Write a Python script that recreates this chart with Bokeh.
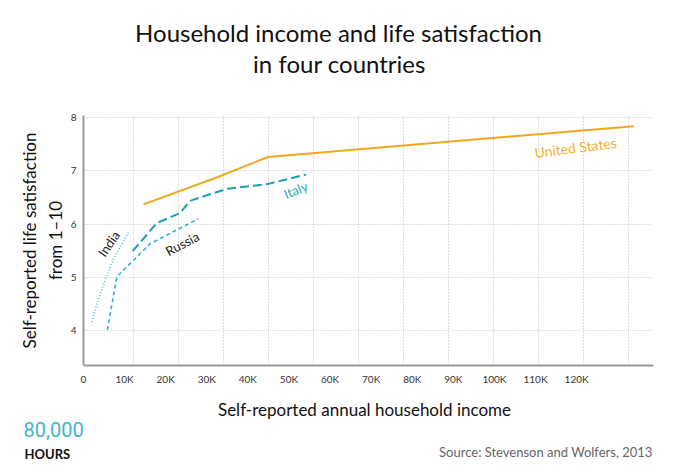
import math

from bokeh.embed import file_html
from bokeh.layouts import column
from bokeh.models import CustomJSTickFormatter, FixedTicker, Label, Range1d
from bokeh.plotting import figure
from bokeh.resources import INLINE

# income in thousands of dollars, satisfaction on a 1-10 scale
us_income = [12.3, 28.7, 39.9, 121.1]
us_sat = [6.37, 6.88, 7.26, 7.84]

italy_income = [9.9, 15.3, 20.3, 22.8, 30.8, 39.8, 48.4]
italy_sat = [5.49, 6.02, 6.20, 6.44, 6.66, 6.75, 6.93]

russia_income = [4.3, 6.4, 13.8, 24.5]
russia_sat = [4.01, 5.01, 5.63, 6.10]

india_income = [0.8, 2.0, 3.9, 5.7, 9.1]
india_sat = [4.16, 4.50, 4.97, 5.35, 5.86]

grid_ticks = [10, 20, 30, 40, 50, 60, 70, 80, 90, 100, 110, 120]
y_ticks = [4, 5, 6, 7, 8]
tick_values = [0, 10, 20, 30, 40, 50, 60, 70, 80, 90, 100, 110, 120]
tick_labels = ["0", "10K", "20K", "30K", "40K", "50K", "60K", "70K",
               "80K", "90K", "100K", "110K", "120K"]

title_lines = ["Household income and life satisfaction", "in four countries"]
x_title = "Self-reported annual household income"
y_title = "Self-reported life satisfaction\nfrom 1–10"
source = "Source: Stevenson and Wolfers, 2013"

FONT = "Lato"
US_C = "#F2A81D"
ITALY_C = "#1E9DB3"
RUSSIA_C = "#35B0C5"
INDIA_C = "#55BACB"
W = 680


def text_strip(h):
    # a bare figure used only to hold text, in pixel coordinates (y down)
    f = figure(width=W, height=h, x_range=Range1d(0, W), y_range=Range1d(h, 0),
               output_backend="svg", toolbar_location=None,
               x_axis_location=None, y_axis_location=None,
               min_border=0)
    f.frame_align = False
    f.outline_line_color = None
    f.xgrid.visible = False
    f.ygrid.visible = False
    return f


def put(f, txt, x, y, size, color="#111111", align="center", style="normal",
        font=FONT):
    f.add_layout(Label(x=x, y=y, text=txt, text_align=align,
                       text_baseline="middle", text_font=font,
                       text_font_size=size, text_color=color,
                       text_font_style=style))


header = text_strip(100)
put(header, title_lines[0], 338, 32, "24px")
put(header, title_lines[1], 339, 63, "24px")

p = figure(
    width=W, height=292,
    x_range=Range1d(-1.0, 125.5), y_range=Range1d(3.34, 8.04),
    output_backend="svg", toolbar_location=None,
    min_border_left=83, min_border_right=27,
    min_border_top=15, min_border_bottom=27,
)
p.outline_line_color = None

# the original's axis labels sit on a slightly tighter spacing than its grid
label_pos = [t * 0.912 - 1.0 for t in tick_values]

p.xaxis.ticker = FixedTicker(ticks=label_pos)
p.xaxis.formatter = CustomJSTickFormatter(
    args=dict(pos=label_pos, txt=tick_labels),
    code="""
    let best = 0;
    for (let i = 0; i < pos.length; i++) {
        if (Math.abs(pos[i] - tick) < Math.abs(pos[best] - tick)) best = i;
    }
    return txt[best];
    """,
)
p.yaxis.ticker = FixedTicker(ticks=y_ticks)

for ax in (p.xaxis, p.yaxis):
    ax.axis_line_color = "#9a9a9a"
    ax.axis_line_width = 2
    ax.major_tick_line_color = None
    ax.major_tick_out = 0
    ax.major_tick_in = 0
    ax.minor_tick_line_color = None
    ax.minor_tick_out = 0
    ax.major_label_text_font = FONT
    ax.major_label_text_font_size = "10px"
    ax.major_label_text_color = "#333333"
p.xaxis.major_label_standoff = 7
p.yaxis.major_label_standoff = 7

p.yaxis.axis_label = y_title
p.yaxis.axis_label_text_font = FONT
p.yaxis.axis_label_text_font_size = "17px"
p.yaxis.axis_label_text_font_style = "normal"
p.yaxis.axis_label_text_color = "#111111"
p.yaxis.axis_label_standoff = 2

p.xgrid.ticker = FixedTicker(ticks=grid_ticks)
p.ygrid.ticker = FixedTicker(ticks=y_ticks)
for g in (p.xgrid, p.ygrid):
    g.grid_line_color = "#bdbdbd"
    g.grid_line_dash = "1 2"
    g.grid_line_width = 1

p.line(us_income, us_sat, color=US_C, line_width=2)
p.line(italy_income, italy_sat, color=ITALY_C, line_width=2, line_dash="9 4")
p.line(russia_income, russia_sat, color=RUSSIA_C, line_width=1.6, line_dash="4 3")
p.line(india_income, india_sat, color=INDIA_C, line_width=1.6, line_dash="1 2")

# series names
series_labels = [
    ("India", 4.6, 5.63, 55, "#222222", "13px"),
    ("Russia", 20.9, 5.63, 28, "#222222", "13px"),
    ("Italy", 46.1, 6.64, 22, "#2BA8BD", "13px"),
    ("United States", 108.2, 7.44, 7, "#F2B035", "14px"),
]
for txt, x, y, ang, col, size in series_labels:
    p.add_layout(Label(
        x=x, y=y, text=txt, angle=math.radians(ang),
        text_align="center", text_baseline="middle",
        text_font=FONT, text_font_size=size, text_color=col,
    ))

footer = text_strip(82)
put(footer, x_title, 364, 17, "17px")
put(footer, "80,000", 23, 37, "20px", color="#45B5CA", align="left",
    font="Roboto")
put(footer, "HOURS", 24, 61, "13px", align="left", style="bold")
put(footer, source, 652, 59, "13px", color="#666666", align="right")

layout = column(header, p, footer, spacing=0)
open("out.html", "w").write(file_html(layout, INLINE))
